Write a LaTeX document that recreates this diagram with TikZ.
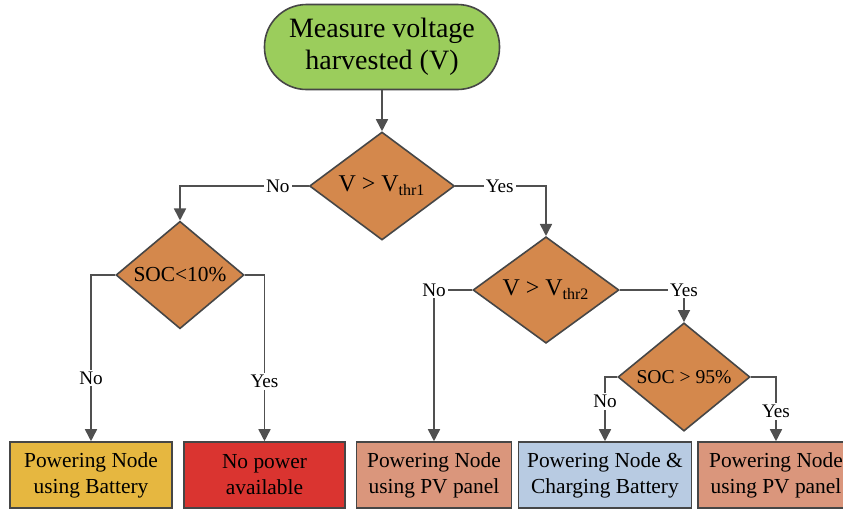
\documentclass[tikz,border=0pt]{standalone}
\usepackage{fontspec}
\setmainfont{Liberation Serif}
\usetikzlibrary{shapes.geometric,arrows.meta}

\definecolor{edgegray}{RGB}{70,70,70}
\definecolor{linegray}{RGB}{80,80,80}
\definecolor{startgreen}{RGB}{155,205,92}
\definecolor{diamondorange}{RGB}{212,136,76}
\definecolor{batteryyellow}{RGB}{230,183,64}
\definecolor{nopowerred}{RGB}{218,52,48}
\definecolor{pvsalmon}{RGB}{218,150,124}
\definecolor{chargeblue}{RGB}{184,203,226}

\begin{document}
\begin{tikzpicture}[x=0.5pt, y=0.5pt, line width=0.8pt,
    >={Triangle[length=6pt,width=6pt]},
    start/.style={draw=edgegray, fill=startgreen, rounded corners=21pt,
        minimum width=117.5pt, minimum height=42.5pt, align=center,
        font=\fontsize{14}{16}\selectfont},
    decision/.style={diamond, draw=edgegray, fill=diamondorange, inner sep=0pt,
        font=\fontsize{12}{14}\selectfont},
    outcome/.style={draw=edgegray, minimum height=33pt, inner sep=0pt,
        align=center, font=\fontsize{10.7}{13}\selectfont},
    branch/.style={fill=white, inner sep=1pt, font=\fontsize{9.6}{11}\selectfont},
    flow/.style={draw=linegray, ->}]
    % Frame
    \useasboundingbox (0,0) rectangle (843,-511);
    \clip (0,0) rectangle (843,-511);
    \fill[white] (0,0) rectangle (843,-511);

    % Start
    \node[start] (measure) at (382,-47) {Measure voltage\\harvested (V)};

    % Decisions
    \node[decision, minimum width=72.5pt, minimum height=54pt] (vthrone) at (382,-186) {V > V\textsubscript{thr1}};
    \node[decision, minimum width=64pt, minimum height=51.5pt, font=\fontsize{10.7}{12}\selectfont] (soclow) at (180,-275) {SOC<10\%};
    \node[decision, minimum width=73pt, minimum height=50pt] (vthrtwo) at (546,-290) {V > V\textsubscript{thr2}};
    \node[decision, minimum width=66pt, minimum height=51.5pt, font=\fontsize{9.8}{11}\selectfont] (sochigh) at (684,-377) {SOC > 95\%};

    % Outcomes
    \node[outcome, fill=batteryyellow, minimum width=81pt] (battery) at (91,-475) {Powering Node\\using Battery};
    \node[outcome, fill=nopowerred, minimum width=80.5pt] (nopower) at (264.5,-475) {No power\\available};
    \node[outcome, fill=pvsalmon, minimum width=77.5pt] (pvleft) at (434,-475) {Powering Node\\using PV panel};
    \node[outcome, fill=chargeblue, minimum width=86.5pt] (charging) at (605,-475) {Powering Node \&\\Charging Battery};
    \node[outcome, fill=pvsalmon, minimum width=78pt] (pvright) at (776,-475) {Powering Node\\using PV panel};

    % Connectors
    \draw[flow] (measure) -- (vthrone);
    \draw[flow] (vthrone.west) -| node[branch, pos=0.12] {No} (soclow.north);
    \draw[flow] (vthrone.east) -| node[branch, pos=0.245] {Yes} (vthrtwo.north);
    \draw[flow] (soclow.west) -| node[branch, pos=0.81] {No} (battery.north);
    \draw[flow] (soclow.east) -| node[branch, pos=0.82] {Yes} (nopower.north);
    \draw[flow] (vthrtwo.west) -| node[branch, pos=0.5] {No} (pvleft.north);
    \draw[flow] (vthrtwo.east) -| node[branch, pos=0.5] {Yes} (sochigh.north);
    \draw[flow] (sochigh.west) -| node[branch, pos=0.69] {No} (charging.north);
    \draw[flow] (sochigh.east) -| node[branch, pos=0.77] {Yes} (pvright.north);

\end{tikzpicture}
\end{document}
